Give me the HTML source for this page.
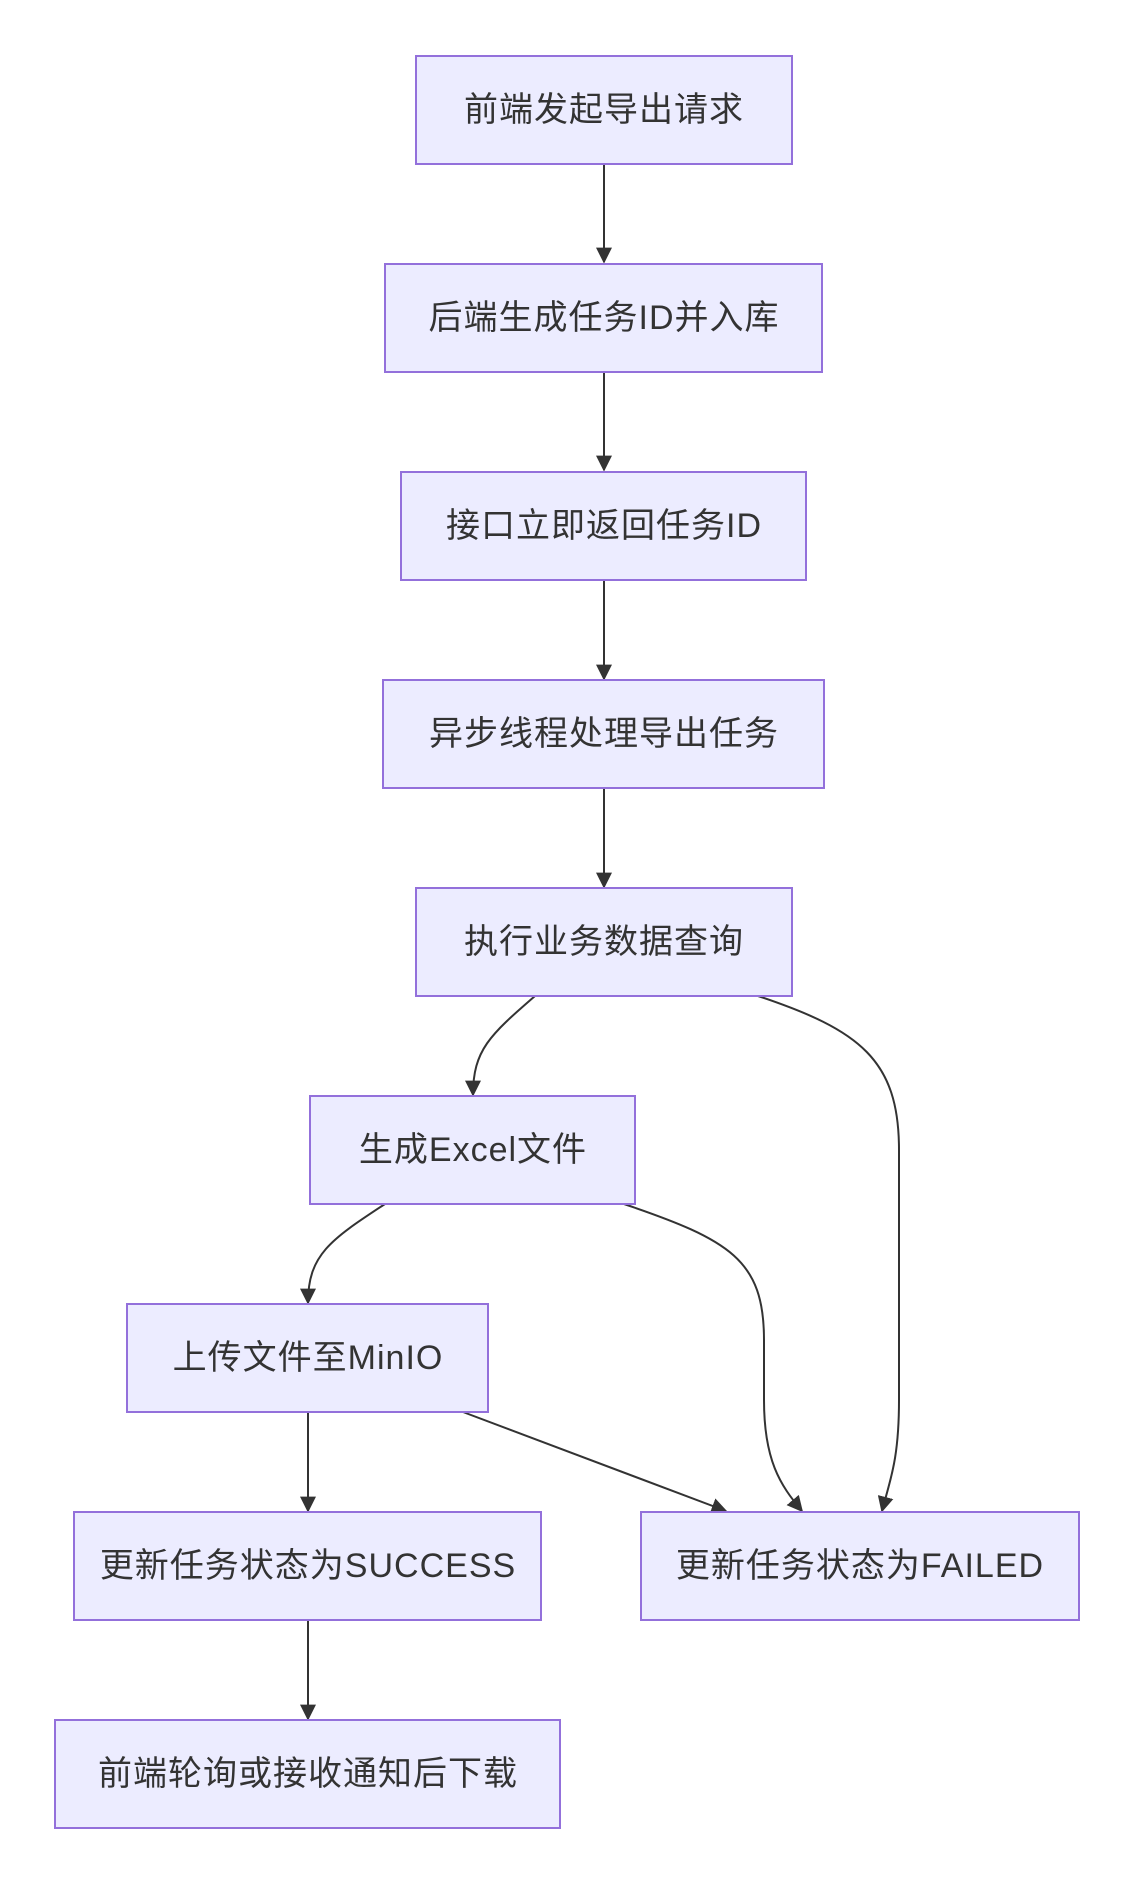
<!DOCTYPE html>
<html><head><meta charset="utf-8"><style>
html,body{margin:0;padding:0;background:#fff;}
svg{display:block;}
text{font-family:"Liberation Sans","Noto Sans CJK SC",sans-serif;font-size:34px;fill:#333;letter-spacing:1px;}
</style></head><body>
<svg width="1135" height="1883" viewBox="0 0 1135 1883" xmlns="http://www.w3.org/2000/svg">
<defs><marker id="a" viewBox="0 0 10 10" refX="9" refY="5" markerWidth="9" markerHeight="9" markerUnits="userSpaceOnUse" orient="auto"><path d="M0,0L10,5L0,10z" fill="#333"/></marker>
<marker id="b" viewBox="0 0 10 10" refX="9" refY="5" markerWidth="16" markerHeight="16" markerUnits="userSpaceOnUse" orient="auto"><path d="M0,0L10,5L0,10z" fill="#333"/></marker></defs>
<g fill="none" stroke="#333" stroke-width="2">
<path d="M604,164V262" marker-end="url(#b)"/>
<path d="M604,372V470" marker-end="url(#b)"/>
<path d="M604,580V679" marker-end="url(#b)"/>
<path d="M604,788V887" marker-end="url(#b)"/>
<path d="M535,996C490,1035 473,1050 473,1095" marker-end="url(#b)"/>
<path d="M758,996C860,1030 899,1060 899,1150V1400C899,1460 890,1480 882,1511" marker-end="url(#b)"/>
<path d="M624,1204C730,1240 764,1260 764,1340V1400C764,1460 780,1485 802,1511" marker-end="url(#b)"/>
<path d="M385,1204C330,1240 308,1255 308,1303" marker-end="url(#b)"/>
<path d="M463,1412L726,1511" marker-end="url(#b)"/>
<path d="M308,1412V1511" marker-end="url(#b)"/>
<path d="M308,1620V1719" marker-end="url(#b)"/>
</g>
<g fill="#ECECFF" stroke="#9370DB" stroke-width="2">
<rect x="416" y="56" width="376" height="108"/>
<rect x="385" y="264" width="437" height="108"/>
<rect x="401" y="472" width="405" height="108"/>
<rect x="383" y="680" width="441" height="108"/>
<rect x="416" y="888" width="376" height="108"/>
<rect x="310" y="1096" width="325" height="108"/>
<rect x="127" y="1304" width="361" height="108"/>
<rect x="74" y="1512" width="467" height="108"/>
<rect x="641" y="1512" width="438" height="108"/>
<rect x="55" y="1720" width="505" height="108"/>
</g>
<g text-anchor="middle" dominant-baseline="central">
<text x="604" y="110">前端发起导出请求</text>
<text x="604" y="318">后端生成任务ID并入库</text>
<text x="604" y="526">接口立即返回任务ID</text>
<text x="604" y="734">异步线程处理导出任务</text>
<text x="604" y="942">执行业务数据查询</text>
<text x="473" y="1150">生成Excel文件</text>
<text x="308" y="1358">上传文件至MinIO</text>
<text x="308" y="1566">更新任务状态为SUCCESS</text>
<text x="860" y="1566">更新任务状态为FAILED</text>
<text x="308" y="1774">前端轮询或接收通知后下载</text>
</g>
</svg>
</body></html>
